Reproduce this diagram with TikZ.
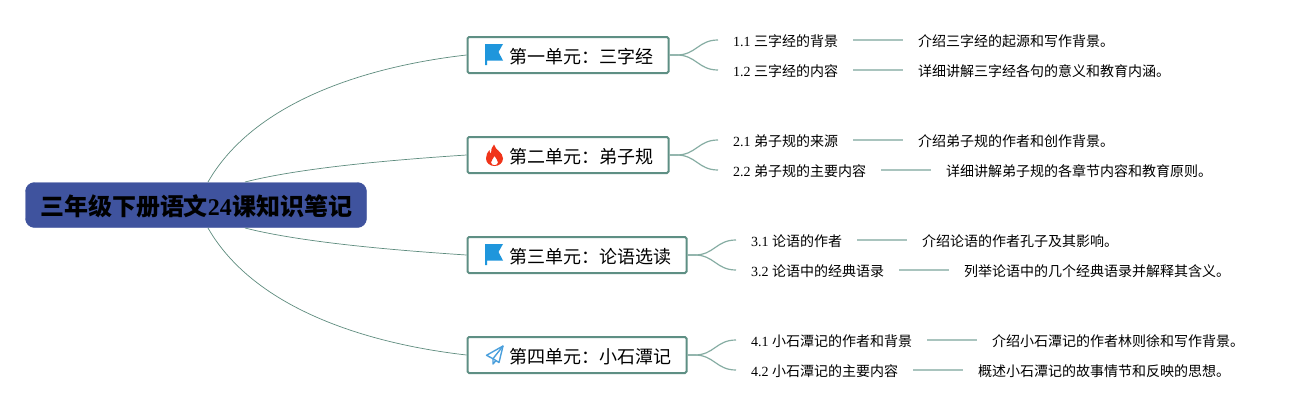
\documentclass[tikz,border=0pt]{standalone}
\usepackage{fontspec}
\usetikzlibrary{calc}
\setmainfont{Liberation Serif}
\newfontfamily\cjk{Noto Sans CJK SC}
\definecolor{rootfill}{HTML}{3F539E}
\definecolor{boxline}{HTML}{5E8F84}
\definecolor{curveline}{HTML}{5E8C7E}
\definecolor{branchline}{HTML}{86ADA3}
\definecolor{stemline}{HTML}{A9C4BE}
\definecolor{flagblue}{HTML}{1F96DC}
\definecolor{fire}{HTML}{F0341A}
\definecolor{planeblue}{HTML}{4A9FDC}
\tikzset{
  rootbox/.style={fill=rootfill,draw=rootfill,rounded corners=9pt,minimum width=341pt,minimum height=45pt,inner sep=0pt,font=\fontsize{24}{28}\selectfont\bfseries},
  unitbox/.style={draw=boxline,line width=2pt,fill=white,rounded corners=1.5pt,anchor=west,minimum height=36pt,inner xsep=15pt,inner ysep=0pt,font=\fontsize{18}{22}\selectfont},
  subtext/.style={anchor=west,inner xsep=15pt,inner ysep=2pt,font=\fontsize{14}{17}\selectfont},
  maincurve/.style={draw=curveline,line width=0.7pt},
  branch/.style={draw=branchline,line width=1.2pt},
  stem/.style={draw=stemline,line width=1.5pt},
  flagshape/.pic={
    \fill[flagblue] (18.5,-11) -- (36.5,-11) -- (32,-3) -- (36.5,5.5) -- (20.5,5.5) -- (20.5,10) -- (18.5,10) -- cycle;
  },
  fireshape/.pic={
    \fill[fire,even odd rule] (27.5,-10.5) .. controls (28.5,-5) and (36.5,-3) .. (36.5,3.5)
      .. controls (36.5,8) and (32.5,11) .. (28,11)
      .. controls (23.5,11) and (19.5,8) .. (19.5,3.5)
      .. controls (19.5,0) and (21,-3) .. (23,-5)
      .. controls (23,-3) and (23.5,-2) .. (24.5,-1.5)
      .. controls (24.5,-5) and (25,-8) .. (27.5,-10.5) -- cycle
      (28,1) .. controls (29,4) and (32,5) .. (31.5,7.5)
      .. controls (31,9.5) and (29.5,10.2) .. (28,10.2)
      .. controls (26.5,10.2) and (24.8,9.5) .. (24.5,7.5)
      .. controls (24.5,5) and (27,4) .. (28,1) -- cycle;
  },
  planeshape/.pic={
    \draw[planeblue,line width=1.4pt,line join=round] (36.5,-9) -- (20,0.3) -- (26.5,3.7) -- (32.5,7.5) -- cycle;
    \draw[planeblue,line width=1.4pt,line join=round] (36.5,-9) -- (26.5,3.7) -- (26.5,9) -- (29.5,5.5);
  }
}
\newcommand{\unittext}[2]{\hspace*{27pt}\raisebox{-1.2pt}[\height][\depth]{\cjk #1\char"FF1A #2}}
\begin{document}
\begin{tikzpicture}[x=1pt,y=-1pt]
\useasboundingbox (0,0) rectangle (1304,410);
\fill[white] (0,0) rectangle (1304,410);

% root
\node[rootbox] (root) at (196,205) {\raisebox{-1.5pt}[\height][\depth]{{\cjk\bfseries 三年级下册语文}24{\cjk\bfseries 课知识笔记}}};
\coordinate (rA) at (208,182);
\coordinate (rB) at (245,182);
\coordinate (rC) at (245,228);
\coordinate (rD) at (208,228);

% units
\node[unitbox] (u1) at (466.5,55) {\unittext{第一单元}{三字经}};
\node[unitbox] (u2) at (466.5,155) {\unittext{第二单元}{弟子规}};
\node[unitbox] (u3) at (466.5,255) {\unittext{第三单元}{论语选读}};
\node[unitbox] (u4) at (466.5,355) {\unittext{第四单元}{小石潭记}};

\pic at (u1.west) {flagshape};
\pic at (u2.west) {fireshape};
\pic at (u3.west) {flagshape};
\pic at (u4.west) {planeshape};

% root connectors
\draw[maincurve] (rA) .. controls (255,100) and (370,66) .. (u1.west);
\draw[maincurve] (rB) .. controls (300,168) and (390,160) .. (u2.west);
\draw[maincurve] (rC) .. controls (300,242) and (390,250) .. (u3.west);
\draw[maincurve] (rD) .. controls (255,310) and (370,344) .. (u4.west);

% sub topics
\node[subtext] (s11) at (718,41) {1.1 {\cjk 三字经的背景}};
\node[subtext] (d11) at (903,41) {\cjk 介绍三字经的起源和写作背景。};
\node[subtext] (s12) at (718,71) {1.2 {\cjk 三字经的内容}};
\node[subtext] (d12) at (903,71) {\cjk 详细讲解三字经各句的意义和教育内涵。};

\node[subtext] (s21) at (718,141) {2.1 {\cjk 弟子规的来源}};
\node[subtext] (d21) at (903,141) {\cjk 介绍弟子规的作者和创作背景。};
\node[subtext] (s22) at (718,171) {2.2 {\cjk 弟子规的主要内容}};
\node[subtext] (d22) at (931,171) {\cjk 详细讲解弟子规的各章节内容和教育原则。};

\node[subtext] (s31) at (736,241) {3.1 {\cjk 论语的作者}};
\node[subtext] (d31) at (907,241) {\cjk 介绍论语的作者孔子及其影响。};
\node[subtext] (s32) at (736,271) {3.2 {\cjk 论语中的经典语录}};
\node[subtext] (d32) at (949,271) {\cjk 列举论语中的几个经典语录并解释其含义。};

\node[subtext] (s41) at (736,341) {4.1 {\cjk 小石潭记的作者和背景}};
\node[subtext] (d41) at (977,341) {\cjk 介绍小石潭记的作者林则徐和写作背景。};
\node[subtext] (s42) at (736,371) {4.2 {\cjk 小石潭记的主要内容}};
\node[subtext] (d42) at (963,371) {\cjk 概述小石潭记的故事情节和反映的思想。};

% unit-to-sub branches
\foreach \u/\a/\b in {u1/s11/s12,u2/s21/s22,u3/s31/s32,u4/s41/s42}{
  \draw[branch] (\u.east) -- ++(7,0) .. controls +(20,0) and ($(\a.west)+(-20,-1)$) .. ($(\a.west)+(0,-1)$);
  \draw[branch] (\u.east) -- ++(7,0) .. controls +(20,0) and ($(\b.west)+(-20,-1)$) .. ($(\b.west)+(0,-1)$);
}

% stems
\foreach \a/\b in {s11/d11,s12/d12,s21/d21,s22/d22,s31/d31,s32/d32,s41/d41,s42/d42}{
  \draw[stem] ([yshift=1pt]\a.east) -- ([yshift=1pt]\b.west);
}
\end{tikzpicture}
\end{document}
